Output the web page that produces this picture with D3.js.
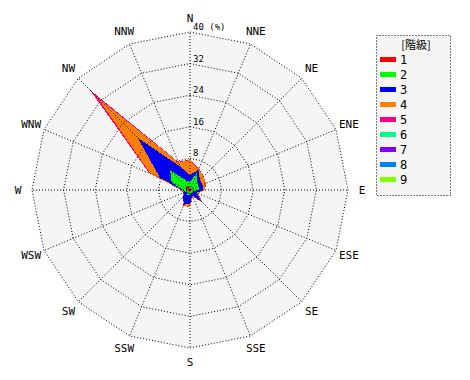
<!DOCTYPE html>
<html lang="ja">
<head>
<meta charset="utf-8">
<title>Wind rose</title>
<style>
  body { margin: 0; padding: 0; background: #fff; }
  svg text { font-family: "DejaVu Sans Mono", "Noto Sans CJK JP", monospace; fill: #000; }
</style>
</head>
<body>
<div id="chart"></div>
<script src="https://cdn.jsdelivr.net/npm/d3@7"></script>
<script>
  // 16 directions, clockwise from north
  const directions = ["N", "NNE", "NE", "ENE", "E", "ESE", "SE", "SSE",
                      "S", "SSW", "SW", "WSW", "W", "WNW", "NW", "NNW"];

  // share (%) of each class per direction
  const class1 = [0.5, 0.4, 0.5, 0.6, 0.6, 0.3, 0.4, 0.3, 0.4, 0.5, 0.4, 0.5, 0.9, 1.2, 1.4, 0.8];
  const class2 = [1.5, 4.6, 2.1, 1.8, 1.6, 0.5, 0.8, 0.5, 0.8, 1.1, 0.6, 0.7, 0.9, 3.8, 5.7, 1.8];
  const class3 = [1.8, 0.5, 1.0, 1.0, 1.2, 1.0, 3.0, 0.7, 2.3, 2.4, 1.5, 0.3, 0.2, 3.3, 11.6, 3.8];
  const class4 = [3.8, 0.3, 1.2, 0.9, 0.3, 0.4, 0.1, 0.3, 0.8, 0.2, 0.1, 0.2, 0.2, 2.5, 14.5, 1.1];
  const class5 = [0.1, 0.1, 0.1, 0.1, 0.1, 0.1, 0.1, 0.1, 0.1, 0.1, 0.1, 0.1, 0.1, 0.4, 2.6, 0.2];
  const class6 = [0, 0, 0, 0, 0, 0, 0, 0, 0, 0, 0, 0, 0, 0, 0.05, 0];
  const class7 = [0, 0, 0, 0, 0, 0, 0, 0, 0, 0, 0, 0, 0, 0, 0, 0];
  const class8 = [0, 0, 0, 0, 0, 0, 0, 0, 0, 0, 0, 0, 0, 0, 0, 0];
  const class9 = [0, 0, 0, 0, 0, 0, 0, 0, 0, 0, 0, 0, 0, 0, 0, 0];

  const classNames = ["1", "2", "3", "4", "5", "6", "7", "8", "9"];
  const classColors = ["#ff0000", "#00ff00", "#0000ff", "#ff8000", "#ff0080",
                       "#00ff80", "#8000ff", "#0080ff", "#80ff00"];
  const ringTicks = [8, 16, 24, 32, 40];

  const series = [class1, class2, class3, class4, class5, class6, class7, class8, class9];

  const width = 470, height = 380;
  const cx = 190, cy = 190, R = 158;

  const svg = d3.select("#chart").append("svg")
    .attr("width", width)
    .attr("height", height);

  const r = d3.scaleLinear().domain([0, 40]).range([0, R]);
  const step = 2 * Math.PI / directions.length;

  const radial = d3.lineRadial()
    .angle((d, i) => i * step)
    .radius(d => r(d))
    .curve(d3.curveLinearClosed);

  const g = svg.append("g").attr("transform", `translate(${cx},${cy})`);

  // plot background
  g.append("path")
    .attr("d", radial(directions.map(() => 40)))
    .attr("fill", "#f5f5f5");

  // cumulative stacks, outermost drawn first
  const cumulative = [];
  series.forEach((s, k) => {
    cumulative.push(s.map((v, i) => v + (k > 0 ? cumulative[k - 1][i] : 0)));
  });
  for (let k = cumulative.length - 1; k >= 0; k--) {
    g.append("path")
      .attr("d", radial(cumulative[k]))
      .attr("fill", classColors[k])
      .attr("shape-rendering", "crispEdges");
  }

  // dotted grid
  ringTicks.forEach(t => {
    g.append("path")
      .attr("d", radial(directions.map(() => t)))
      .attr("fill", "none")
      .attr("stroke", "#000")
      .attr("stroke-width", 1)
      .attr("stroke-dasharray", "1,2");
  });
  directions.forEach((d, i) => {
    const a = i * step;
    g.append("line")
      .attr("x1", 0).attr("y1", 0)
      .attr("x2", r(40) * Math.sin(a))
      .attr("y2", -r(40) * Math.cos(a))
      .attr("stroke", "#000")
      .attr("stroke-width", 1)
      .attr("stroke-dasharray", "1,2");
  });

  // direction labels
  directions.forEach((d, i) => {
    const a = i * step;
    g.append("text")
      .attr("x", 172 * Math.sin(a))
      .attr("y", -172 * Math.cos(a))
      .attr("text-anchor", "middle")
      .attr("dominant-baseline", "central")
      .style("font-size", "11px")
      .text(d);
  });

  // ring labels
  ringTicks.forEach(t => {
    g.append("text")
      .attr("x", 3)
      .attr("y", -r(t) - 2)
      .style("font-size", "9px")
      .text(t === 40 ? "40 (%)" : t);
  });

  // legend
  const lg = svg.append("g").attr("transform", "translate(376,35)");
  lg.append("rect")
    .attr("x", 0.5).attr("y", 0.5)
    .attr("width", 74).attr("height", 160)
    .attr("fill", "#f5f5f5")
    .attr("stroke", "#000")
    .attr("stroke-dasharray", "1,2");
  lg.append("text")
    .attr("x", 40).attr("y", 9)
    .attr("text-anchor", "middle")
    .attr("dominant-baseline", "central")
    .style("font-size", "11px")
    .style("font-family", "'Noto Sans CJK JP', sans-serif")
    .text("[階級]");
  classNames.forEach((c, i) => {
    const y = 24.5 + i * 15;
    lg.append("rect")
      .attr("x", 4).attr("y", y - 2.5)
      .attr("width", 16).attr("height", 5)
      .attr("fill", classColors[i]);
    lg.append("text")
      .attr("x", 24).attr("y", y)
      .attr("dominant-baseline", "central")
      .style("font-size", "12px")
      .text(c);
  });
</script>
</body>
</html>
